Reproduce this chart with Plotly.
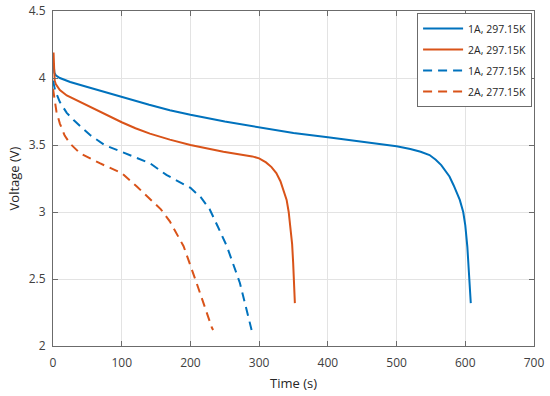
import plotly.graph_objects as go

# 1A, 297.15K
t_1a_297 = [0, 0.8, 2, 4, 10, 25, 50, 75, 100, 110, 125, 140, 170, 200, 250, 300, 350, 400, 450, 500, 520, 535, 548, 557, 565, 572, 577, 583, 588, 592, 597, 600, 603, 605, 606.5, 608]
v_1a_297 = [4.08, 4.11, 4.04, 4.02, 4.0, 3.97, 3.933, 3.895, 3.86, 3.845, 3.82, 3.80, 3.76, 3.725, 3.675, 3.63, 3.59, 3.557, 3.525, 3.49, 3.47, 3.45, 3.425, 3.39, 3.35, 3.30, 3.265, 3.20, 3.14, 3.09, 3.0, 2.90, 2.74, 2.60, 2.46, 2.32]

# 2A, 297.15K
t_2a_297 = [0, 0.8, 1.6, 2.5, 4, 6, 10, 20, 44, 70, 100, 120, 141, 170, 200, 248, 275, 290, 300, 310, 318, 325, 331, 336, 340, 343, 346, 348, 349.5, 350.5, 351.3, 352]
v_2a_297 = [4.15, 4.19, 4.08, 3.98, 3.955, 3.94, 3.91, 3.87, 3.81, 3.74, 3.67, 3.625, 3.585, 3.54, 3.50, 3.45, 3.43, 3.415, 3.40, 3.37, 3.335, 3.29, 3.23, 3.16, 3.09, 3.0, 2.88, 2.76, 2.62, 2.5, 2.4, 2.32]

# 1A, 277.15K
t_1a_277 = [0, 1, 3, 10, 20, 30, 54, 75, 100, 120, 141, 165, 200, 215, 228, 240, 253, 272, 289]
v_1a_277 = [3.98, 3.95, 3.91, 3.82, 3.74, 3.686, 3.574, 3.50, 3.45, 3.41, 3.364, 3.277, 3.18, 3.11, 3.02, 2.89, 2.745, 2.47, 2.12]

# 2A, 277.15K
t_2a_277 = [0, 1, 2, 5, 10, 17, 25, 39, 68, 100, 122, 141, 157, 170, 190, 209, 220, 231, 233]
v_2a_277 = [3.92, 3.88, 3.84, 3.75, 3.66, 3.57, 3.51, 3.44, 3.364, 3.29, 3.19, 3.10, 3.02, 2.93, 2.745, 2.47, 2.3, 2.14, 2.12]

BLUE = "#0072BD"
RED = "#D95319"

fig = go.Figure()
series = [
    (t_1a_297, v_1a_297, "1A, 297.15K", BLUE, "solid"),
    (t_2a_297, v_2a_297, "2A, 297.15K", RED, "solid"),
    (t_1a_277, v_1a_277, "1A, 277.15K", BLUE, "9px,6px"),
    (t_2a_277, v_2a_277, "2A, 277.15K", RED, "9px,6px"),
]
for i, (t, v, name, col, dash) in enumerate(series):
    fig.add_trace(go.Scatter(x=t, y=v, mode="lines", name=name, legendgroup=f"g{i}",
                             line=dict(color=col, width=2, dash=dash)))

axis_common = dict(
    showline=True, linecolor="#6b6b6b", linewidth=1, mirror="ticks",
    ticks="inside", ticklen=5, tickcolor="#6b6b6b",
    showgrid=True, gridcolor="#e3e3e3", gridwidth=1, zeroline=False,
    tickfont=dict(size=12, color="#404040"), automargin=False,
)

fig.update_layout(
    width=550, height=396,
    margin=dict(l=53, r=16, t=11, b=50),
    paper_bgcolor="white", plot_bgcolor="white",
    font=dict(family="Open Sans", size=12, color="#404040"),
    xaxis=dict(range=[0, 700], dtick=100, ticklabelstandoff=6,
               title=dict(text="Time (s)", standoff=8, font=dict(size=13, color="#262626")), **axis_common),
    yaxis=dict(range=[2, 4.5], dtick=0.5, ticklabelstandoff=4,
               title=dict(text="Voltage (V)", standoff=6, font=dict(size=13, color="#262626")), **axis_common),
    legend=dict(x=0.996, y=0.994, xanchor="right", yanchor="top",
                bgcolor="white", bordercolor="#6b6b6b", borderwidth=1,
                font=dict(size=10.5, color="#262626"), itemwidth=40,
                tracegroupgap=2),
    showlegend=True,
)

fig.write_html("out.html", config={"displayModeBar": False},
               post_script="document.body.style.margin='0';")
